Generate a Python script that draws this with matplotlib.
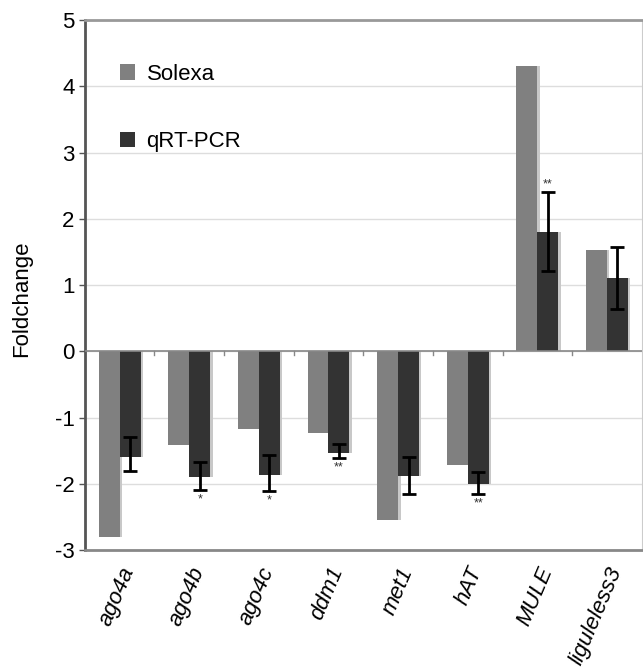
import numpy as np
import matplotlib.pyplot as plt

# --- data ---
genes = ['ago4a', 'ago4b', 'ago4c', 'ddm1', 'met1', 'hAT', 'MULE', 'liguleless3']
solexa = [-2.81, -1.42, -1.18, -1.23, -2.54, -1.71, 4.30, 1.53]
qrtpcr = [-1.59, -1.90, -1.87, -1.53, -1.89, -2.01, 1.80, 1.10]
err_low = [-1.81, -2.09, -2.11, -1.61, -2.16, -2.15, 1.21, 0.64]
err_high = [-1.29, -1.67, -1.57, -1.40, -1.60, -1.83, 2.41, 1.58]
stars = ['', '*', '*', '**', '', '**', '**', '']

plt.rcParams['font.family'] = ['Liberation Sans', 'DejaVu Sans']
plt.rcParams['axes.unicode_minus'] = False

fig = plt.figure(figsize=(6.43, 6.67), dpi=100)
ax = fig.add_axes([0.132, 0.1754, 0.866, 0.7946])

x = np.arange(len(genes))
w = 0.3
sh = 0.035  # small drop shadow, like the original export

# shadows
ax.bar(x - w / 2 + sh, solexa, w, color='#c8c8c8', zorder=2)
ax.bar(x + w / 2 + sh, qrtpcr, w, color='#c8c8c8', zorder=2)
# bars
ax.bar(x - w / 2, solexa, w, color='#808080', label='Solexa', zorder=3)
ax.bar(x + w / 2, qrtpcr, w, color='#333333', label='qRT-PCR', zorder=3)

# error bars
q = np.array(qrtpcr)
lo = q - np.array(err_low)
hi = np.array(err_high) - q
ax.errorbar(x + w / 2, q, yerr=[lo, hi], fmt='none', ecolor='black',
            elinewidth=2, capsize=5, capthick=2, zorder=4)

# significance stars
for i, s in enumerate(stars):
    if not s:
        continue
    if qrtpcr[i] < 0:
        ax.text(x[i] + w / 2, err_low[i] - 0.05, s, ha='center', va='top',
                fontsize=9, color='#333333', zorder=5)
    else:
        ax.text(x[i] + w / 2, err_high[i] + 0.02, s, ha='center', va='bottom',
                fontsize=9, color='#333333', zorder=5)

ax.set_xlim(-0.5, len(genes) - 0.5)
ax.set_ylim(-3, 5)
ax.set_yticks(range(-3, 6))
ax.yaxis.grid(True, color='#dddddd', linewidth=1)
ax.set_axisbelow(True)

# zero line with small category tick marks
ax.axhline(0, color='#888888', linewidth=1.2, zorder=5)
for b in np.arange(0.5, len(genes) - 0.5, 1.0):
    ax.plot([b, b], [0, -0.05], color='#888888', linewidth=1, zorder=5)

ax.set_xticks(x)
ax.set_xticklabels(genes, rotation=67, ha='right', rotation_mode='anchor',
                   fontsize=16, style='italic')
ax.tick_params(axis='x', length=0, pad=10)
ax.tick_params(axis='y', labelsize=16, length=4, color='#555555', width=1)
ax.set_ylabel('Foldchange', fontsize=16)
ax.yaxis.set_label_coords(-0.095, 0.475)

ax.spines['left'].set_color('#555555')
ax.spines['left'].set_linewidth(2)
ax.spines['bottom'].set_color('#888888')
ax.spines['bottom'].set_linewidth(2)
ax.spines['top'].set_color('#999999')
ax.spines['top'].set_linewidth(2)
ax.spines['right'].set_color('#cccccc')

ax.legend(loc='upper left', bbox_to_anchor=(0.027, 0.955), frameon=False,
          fontsize=16, handlelength=0.7, handleheight=0.7,
          labelspacing=2.08, handletextpad=0.5)

plt.savefig('out.png', dpi=100)
